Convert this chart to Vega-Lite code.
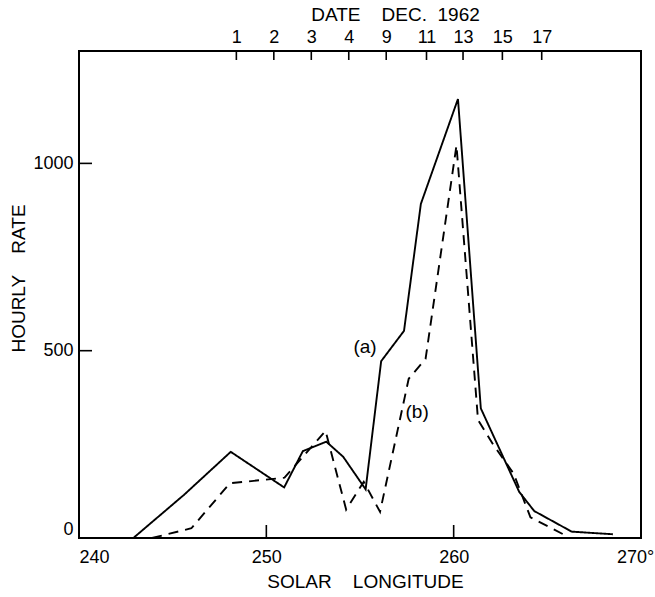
{
  "$schema": "https://vega.github.io/schema/vega-lite/v6.json",
  "width": 562,
  "height": 487,
  "autosize": {"type": "none"},
  "padding": {"left": 79, "top": 51, "right": 14, "bottom": 59},
  "background": "white",
  "config": {
    "view": {"stroke": "black", "strokeWidth": 2},
    "font": "Liberation Sans",
    "axis": {
      "grid": false,
      "domain": false,
      "ticks": false,
      "labelColor": "black",
      "titleColor": "black",
      "labelFont": "Liberation Sans",
      "titleFont": "Liberation Sans",
      "labelFontSize": 18,
      "titleFontSize": 19,
      "titleFontWeight": "normal"
    }
  },
  "datasets": {
    "series": [
      {"curve": "a", "longitude": 242.9, "rate": 0},
      {"curve": "a", "longitude": 245.6, "rate": 115},
      {"curve": "a", "longitude": 248.1, "rate": 230},
      {"curve": "a", "longitude": 250.95, "rate": 135},
      {"curve": "a", "longitude": 251.95, "rate": 232},
      {"curve": "a", "longitude": 253.2, "rate": 257},
      {"curve": "a", "longitude": 254.1, "rate": 217},
      {"curve": "a", "longitude": 255.3, "rate": 130},
      {"curve": "a", "longitude": 256.13, "rate": 472},
      {"curve": "a", "longitude": 257.35, "rate": 553},
      {"curve": "a", "longitude": 258.25, "rate": 892},
      {"curve": "a", "longitude": 260.23, "rate": 1172},
      {"curve": "a", "longitude": 261.45, "rate": 346},
      {"curve": "a", "longitude": 263.5, "rate": 123},
      {"curve": "a", "longitude": 264.3, "rate": 72},
      {"curve": "a", "longitude": 266.3, "rate": 17},
      {"curve": "a", "longitude": 268.5, "rate": 10},
      {"curve": "b", "longitude": 243.9, "rate": 0},
      {"curve": "b", "longitude": 246.0, "rate": 26},
      {"curve": "b", "longitude": 248.05, "rate": 146},
      {"curve": "b", "longitude": 250.97, "rate": 161},
      {"curve": "b", "longitude": 253.16, "rate": 286},
      {"curve": "b", "longitude": 254.26, "rate": 76},
      {"curve": "b", "longitude": 255.2, "rate": 150},
      {"curve": "b", "longitude": 256.07, "rate": 70},
      {"curve": "b", "longitude": 257.6, "rate": 425},
      {"curve": "b", "longitude": 258.5, "rate": 478},
      {"curve": "b", "longitude": 260.15, "rate": 1048},
      {"curve": "b", "longitude": 261.3, "rate": 315},
      {"curve": "b", "longitude": 262.1, "rate": 250},
      {"curve": "b", "longitude": 263.2, "rate": 172},
      {"curve": "b", "longitude": 264.1, "rate": 55},
      {"curve": "b", "longitude": 266.0, "rate": 6}
    ],
    "notes": [
      {"label": "(a)", "longitude": 255.27, "rate": 510},
      {"label": "(b)", "longitude": 258.05, "rate": 336}
    ],
    "bottomTicks": [{"longitude": 250}, {"longitude": 260}],
    "leftTicks": [{"rate": 500}, {"rate": 1000}],
    "dateTicks": [
      {"longitude": 248.4, "date": "1"},
      {"longitude": 250.4, "date": "2"},
      {"longitude": 252.4, "date": "3"},
      {"longitude": 254.4, "date": "4"},
      {"longitude": 256.4, "date": "9"},
      {"longitude": 258.55, "date": "11"},
      {"longitude": 260.5, "date": "13"},
      {"longitude": 262.6, "date": "15"},
      {"longitude": 264.7, "date": "17"}
    ]
  },
  "layer": [
    {
      "data": {"name": "series"},
      "mark": {"type": "line", "color": "black", "strokeWidth": 1.9},
      "encoding": {
        "x": {
          "field": "longitude",
          "type": "quantitative",
          "scale": {"domain": [240, 270], "nice": false, "zero": false},
          "axis": {
            "orient": "bottom",
            "values": [240, 250, 260, 270],
            "labelPadding": 10,
            "labelFlush": false,
            "labelAlign": {"condition": {"test": "datum.value <= 240", "value": "left"}, "value": "center"},
            "labelExpr": "datum.value == 270 ? '270°' : datum.label",
            "labelOffset": {"condition": {"test": "datum.value >= 270", "value": -6}, "value": 0},
            "title": "SOLAR\u00a0\u00a0\u00a0\u00a0LONGITUDE",
            "titleX": 286,
            "titleY": 43,
            "titleAlign": "center",
            "titleBaseline": "middle"
          }
        },
        "y": {
          "field": "rate",
          "type": "quantitative",
          "scale": {"domain": [0, 1300], "nice": false},
          "axis": {
            "values": [0, 500, 1000],
            "format": "d",
            "labelPadding": 6,
            "labelFlush": true,
            "title": "HOURLY\u00a0\u00a0\u00a0\u00a0RATE",
            "titleX": -61,
            "titleY": 227,
            "titleAngle": -90,
            "titleAlign": "center",
            "titleBaseline": "middle"
          }
        },
        "strokeDash": {
          "field": "curve",
          "type": "nominal",
          "scale": {"domain": ["a", "b"], "range": [[1, 0], [10, 7]]},
          "legend": null
        }
      }
    },
    {
      "data": {"name": "notes"},
      "mark": {"type": "text", "fontSize": 19, "font": "Liberation Sans", "color": "black"},
      "encoding": {
        "x": {
          "field": "longitude",
          "type": "quantitative",
          "axis": {
            "orient": "top",
            "values": [248.4, 250.4, 252.4, 254.4, 256.4, 258.55, 260.5, 262.6, 264.7],
            "labelExpr": "datum.value < 249 ? '1' : datum.value < 251 ? '2' : datum.value < 253 ? '3' : datum.value < 255 ? '4' : datum.value < 257 ? '9' : datum.value < 259 ? '11' : datum.value < 261 ? '13' : datum.value < 263 ? '15' : '17'",
            "labelPadding": 5,
            "title": "DATE\u00a0\u00a0\u00a0\u00a0DEC.\u00a0\u00a01962",
            "titleX": 316,
            "titleY": -37,
            "titleAlign": "center",
            "titleBaseline": "middle"
          }
        },
        "y": {"field": "rate", "type": "quantitative", "axis": null},
        "text": {"field": "label"}
      }
    },
    {
      "data": {"name": "bottomTicks"},
      "mark": {"type": "tick", "orient": "vertical", "size": 13, "thickness": 1.6, "color": "black", "opacity": 1, "yOffset": -6.5},
      "encoding": {
        "x": {"field": "longitude", "type": "quantitative", "axis": null},
        "y": {"datum": 0, "type": "quantitative", "axis": null}
      }
    },
    {
      "data": {"name": "dateTicks"},
      "mark": {"type": "tick", "orient": "vertical", "size": 9, "thickness": 1.6, "color": "black", "opacity": 1, "yOffset": 4.5},
      "encoding": {
        "x": {"field": "longitude", "type": "quantitative", "axis": null},
        "y": {"datum": 1300, "type": "quantitative", "axis": null}
      }
    },
    {
      "data": {"name": "leftTicks"},
      "mark": {"type": "tick", "orient": "horizontal", "size": 13, "thickness": 1.6, "color": "black", "opacity": 1, "xOffset": 6.5},
      "encoding": {
        "x": {"datum": 240, "type": "quantitative", "axis": null},
        "y": {"field": "rate", "type": "quantitative", "axis": null}
      }
    }
  ],
  "resolve": {"axis": {"x": "independent", "y": "independent"}}
}
